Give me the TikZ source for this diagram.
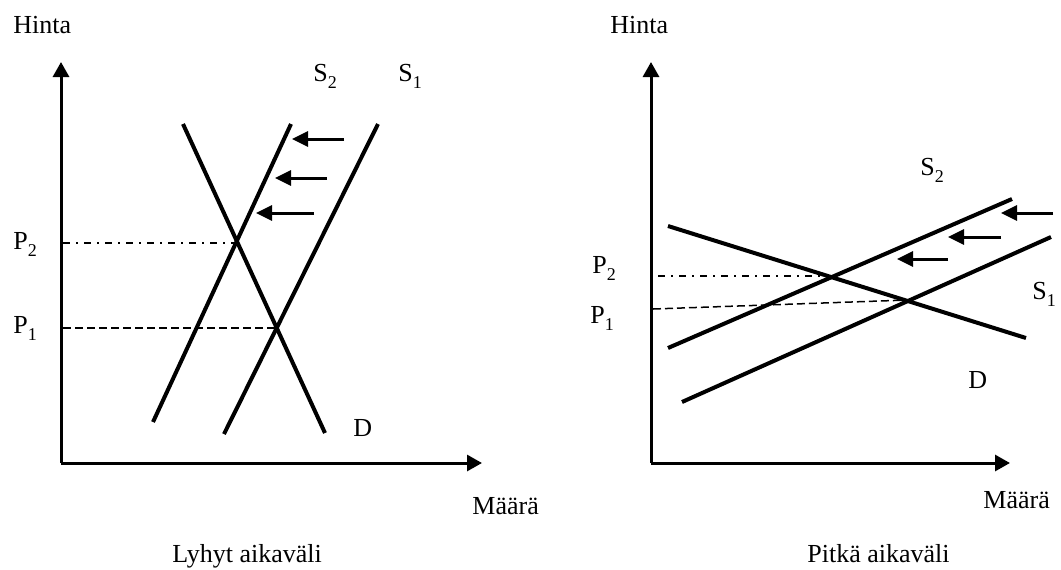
\documentclass[tikz,border=0pt]{standalone}
\usepackage{fontspec}
\setmainfont{Liberation Serif}
\usetikzlibrary{arrows.meta}
\newcommand{\mysub}[1]{\raisebox{-0.28em}{\fontsize{9}{9}\selectfont #1}}
\begin{document}
\begin{tikzpicture}[x=0.5pt,y=-0.5pt,
 lbl/.style={inner sep=0pt, anchor=base west, font=\fontsize{13}{15}\selectfont},
 axis/.style={line width=1.5pt, -{Triangle[length=7.5pt,width=8pt]}},
 curve/.style={line width=2pt},
 shiftarrow/.style={line width=1.5pt, -{Triangle[length=8pt,width=7.5pt]}},
 ddot/.style={line width=0.75pt, dash pattern=on 3.5pt off 3pt on 1pt off 3pt},
 dsh/.style={line width=0.75pt, dash pattern=on 4pt off 2pt}]
\useasboundingbox (0,0) rectangle (1061,569);

% ---------- Left panel: Lyhyt aikaväli ----------
\coordinate (LO) at (61,463);
\coordinate (LY) at (61,62);
\coordinate (LX) at (482,463);
\draw[axis] (LO) -- (LY);
\draw[axis] (LO) -- (LX);

\coordinate (LDa) at (183,124);  \coordinate (LDb) at (325,433);
\coordinate (LS2a) at (291,124); \coordinate (LS2b) at (153,422);
\coordinate (LS1a) at (378,124); \coordinate (LS1b) at (224,434);
\draw[curve] (LDa) -- (LDb);
\draw[curve] (LS2a) -- (LS2b);
\draw[curve] (LS1a) -- (LS1b);

\coordinate (LA1s) at (344,139); \coordinate (LA1e) at (292,139);
\coordinate (LA2s) at (327,178); \coordinate (LA2e) at (275,178);
\coordinate (LA3s) at (314,213); \coordinate (LA3e) at (256,213);
\draw[shiftarrow] (LA1s) -- (LA1e);
\draw[shiftarrow] (LA2s) -- (LA2e);
\draw[shiftarrow] (LA3s) -- (LA3e);

\coordinate (LP2a) at (63,243);  \coordinate (LP2b) at (237,243);
\coordinate (LP1a) at (63,328);  \coordinate (LP1b) at (277,328);
\draw[ddot] (LP2a) -- (LP2b);
\draw[dsh] (LP1a) -- (LP1b);

\node[lbl] (lhinta) at (13,33) {Hinta};
\node[lbl] (ls2) at (313,81) {S\mysub{2}};
\node[lbl] (ls1) at (398,81) {S\mysub{1}};
\node[lbl] (lp2) at (13,249) {P\mysub{2}};
\node[lbl] (lp1) at (13,333) {P\mysub{1}};
\node[lbl] (ld) at (353,436) {D};
\node[lbl] (lmaara) at (472,514) {Määrä};
\node[lbl] (ltitle) at (172,562) {Lyhyt aikaväli};

% ---------- Right panel: Pitkä aikaväli ----------
\coordinate (RO) at (651,463);
\coordinate (RY) at (651,62);
\coordinate (RX) at (1010,463);
\draw[axis] (RO) -- (RY);
\draw[axis] (RO) -- (RX);

\coordinate (RDa) at (668,226);  \coordinate (RDb) at (1026,338);
\coordinate (RS2a) at (1012,199); \coordinate (RS2b) at (668,348);
\coordinate (RS1a) at (1051,237); \coordinate (RS1b) at (682,402);
\draw[curve] (RDa) -- (RDb);
\draw[curve] (RS2a) -- (RS2b);
\draw[curve] (RS1a) -- (RS1b);

\coordinate (RA1s) at (1053,213); \coordinate (RA1e) at (1001,213);
\coordinate (RA2s) at (1001,237); \coordinate (RA2e) at (948,237);
\coordinate (RA3s) at (948,259);  \coordinate (RA3e) at (897,259);
\draw[shiftarrow] (RA1s) -- (RA1e);
\draw[shiftarrow] (RA2s) -- (RA2e);
\draw[shiftarrow] (RA3s) -- (RA3e);

\coordinate (RP2a) at (658,276);  \coordinate (RP2b) at (833,276);
\coordinate (RP1a) at (653,309);  \coordinate (RP1b) at (908,300);
\draw[ddot] (RP2a) -- (RP2b);
\draw[dsh] (RP1a) -- (RP1b);

\node[lbl] (rhinta) at (610,33) {Hinta};
\node[lbl] (rs2) at (920,175) {S\mysub{2}};
\node[lbl] (rs1) at (1032,299) {S\mysub{1}};
\node[lbl] (rp2) at (592,273) {P\mysub{2}};
\node[lbl] (rp1) at (590,323) {P\mysub{1}};
\node[lbl] (rd) at (968,388) {D};
\node[lbl] (rmaara) at (983,508) {Määrä};
\node[lbl] (rtitle) at (807,562) {Pitkä aikaväli};
\end{tikzpicture}
\end{document}
